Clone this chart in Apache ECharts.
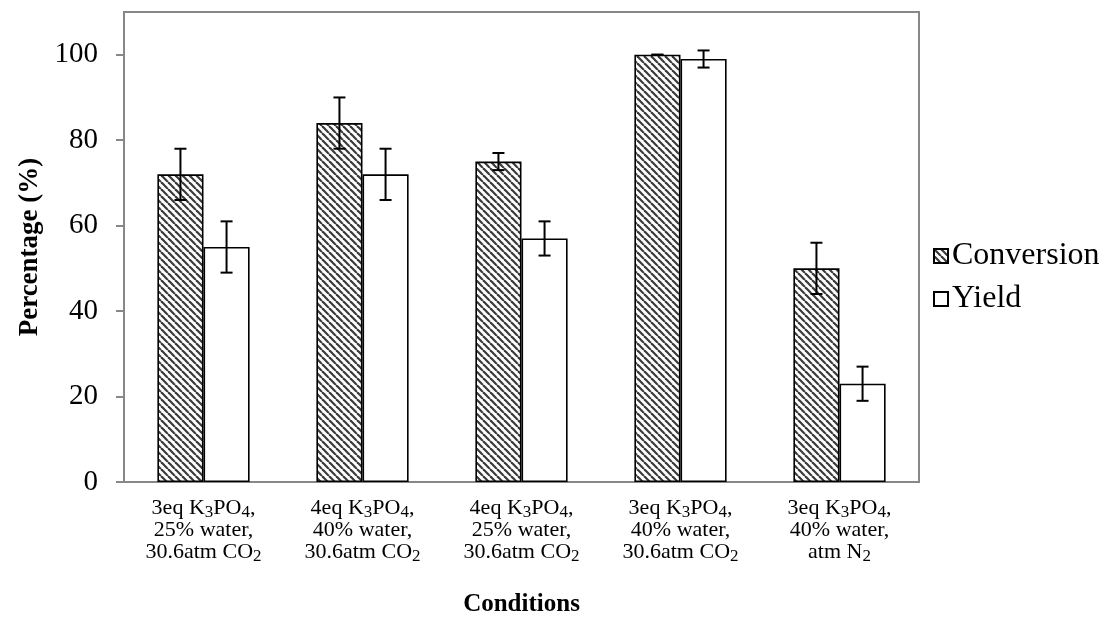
<!DOCTYPE html>
<html>
<head>
<meta charset="utf-8">
<script src="https://cdn.jsdelivr.net/npm/echarts@6/dist/echarts.min.js"></script>
<style>html,body{margin:0;padding:0;background:#fff}#c{width:1117px;height:638px}</style>
</head>
<body>
<div id="c"></div>
<script>
const categories = [
  '3eq K₃PO₄,\n25% water,\n30.6atm CO₂',
  '4eq K₃PO₄,\n40% water,\n30.6atm CO₂',
  '4eq K₃PO₄,\n25% water,\n30.6atm CO₂',
  '3eq K₃PO₄,\n40% water,\n30.6atm CO₂',
  '3eq K₃PO₄,\n40% water,\natm N₂'
];
const conversion = [72, 84, 75, 100, 50];
const conversionErr = [6, 6, 2, 0, 6];
const yieldVals = [55, 72, 57, 99, 23];
const yieldErr = [6, 6, 4, 2, 4];
const yTicks = [0, 20, 40, 60, 80, 100];

const FONT = 'Liberation Serif, Times New Roman, serif';
const SUBS = '₀₁₂₃₄₅₆₇₈₉';

function toRich(s) {
  return s.split('\n').map(function (line) {
    let out = '', buf = '';
    for (const ch of line) {
      const k = SUBS.indexOf(ch);
      if (k >= 0) {
        if (buf) { out += '{n|' + buf + '}'; buf = ''; }
        out += '{s|' + k + '}';
      } else buf += ch;
    }
    if (buf) out += '{n|' + buf + '}';
    return out;
  }).join('\n');
}

// hatch pattern
const pc = document.createElement('canvas');
const P = 7;
pc.width = P; pc.height = P;
const g = pc.getContext('2d');
g.fillStyle = '#fff'; g.fillRect(0, 0, P, P);
g.strokeStyle = '#3a3a3a'; g.lineWidth = 2.2;
for (let k = -1; k <= 1; k++) {
  g.beginPath(); g.moveTo(k * P, 0); g.lineTo(k * P + P, P); g.stroke();
}

const errData = [];
for (let i = 0; i < categories.length; i++) {
  errData.push([i, conversion[i], conversionErr[i], -1]);
  errData.push([i, yieldVals[i], yieldErr[i], 1]);
}

const chart = echarts.init(document.getElementById('c'));
chart.setOption({
  animation: false,
  backgroundColor: '#fff',
  textStyle: { fontFamily: FONT },
  grid: { left: 124, right: 198, top: 12, bottom: 156, show: true, borderColor: '#888', borderWidth: 2, backgroundColor: '#fff' },
  legend: {
    data: ['Conversion', 'Yield'],
    orient: 'vertical',
    left: 928, top: 235,
    itemWidth: 14, itemHeight: 14, itemGap: 11,
    icon: 'rect',
    textStyle: { fontFamily: FONT, fontSize: 32, color: '#000', padding: [0, 0, 0, -1] }
  },
  xAxis: {
    type: 'category',
    data: categories,
    axisLine: { lineStyle: { color: '#888', width: 2 } },
    axisTick: { show: false },
    axisLabel: {
      fontFamily: FONT, fontSize: 22, color: '#000', lineHeight: 22, margin: 15, interval: 0,
      formatter: function (v) { return toRich(v); },
      rich: {
        n: { fontFamily: FONT, fontSize: 22, color: '#000', lineHeight: 22 },
        s: { fontFamily: FONT, fontSize: 17, color: '#000', lineHeight: 12, padding: [10, 0, 0, 0] }
      }
    },
    name: 'Conditions',
    nameLocation: 'middle',
    nameGap: 110,
    nameTextStyle: { fontFamily: FONT, fontSize: 25, fontWeight: 'bold', color: '#000' }
  },
  yAxis: {
    type: 'value',
    min: 0, max: 110, interval: 20,
    splitLine: { show: false },
    axisLine: { show: true, lineStyle: { color: '#888', width: 2 } },
    axisTick: { show: true, length: 8, lineStyle: { color: '#888', width: 2 }, customValues: yTicks },
    axisLabel: { fontFamily: FONT, fontSize: 29, color: '#000', margin: 26, customValues: yTicks },
    name: 'Percentage (%)',
    nameLocation: 'middle',
    nameGap: 80,
    nameTextStyle: { fontFamily: FONT, fontSize: 27, fontWeight: 'bold', color: '#000' }
  },
  series: [
    {
      name: 'Conversion', type: 'bar', data: conversion,
      barWidth: '29%', barGap: '0%',
      itemStyle: { color: { image: pc, repeat: 'repeat' }, borderColor: '#000', borderWidth: 1.6 }
    },
    {
      name: 'Yield', type: 'bar', data: yieldVals,
      barWidth: '29%', barGap: '0%',
      itemStyle: { color: '#fff', borderColor: '#000', borderWidth: 1.6 }
    },
    {
      name: 'err', type: 'custom', data: errData, z: 10,
      renderItem: function (params, api) {
        const idx = api.value(0), val = api.value(1), err = api.value(2), side = api.value(3);
        const band = api.size([1, 0])[0];
        const c = api.coord([idx, val]);
        const x = c[0] + side * band * 0.145;
        const t = api.coord([idx, val + err])[1];
        const b = api.coord([idx, val - err])[1];
        const cap = 6;
        const st = { stroke: '#000', lineWidth: 2 };
        return {
          type: 'group',
          children: [
            { type: 'line', shape: { x1: x, y1: t, x2: x, y2: b }, style: st },
            { type: 'line', shape: { x1: x - cap, y1: t, x2: x + cap, y2: t }, style: st },
            { type: 'line', shape: { x1: x - cap, y1: b, x2: x + cap, y2: b }, style: st }
          ]
        };
      }
    }
  ]
});
</script>
</body>
</html>
